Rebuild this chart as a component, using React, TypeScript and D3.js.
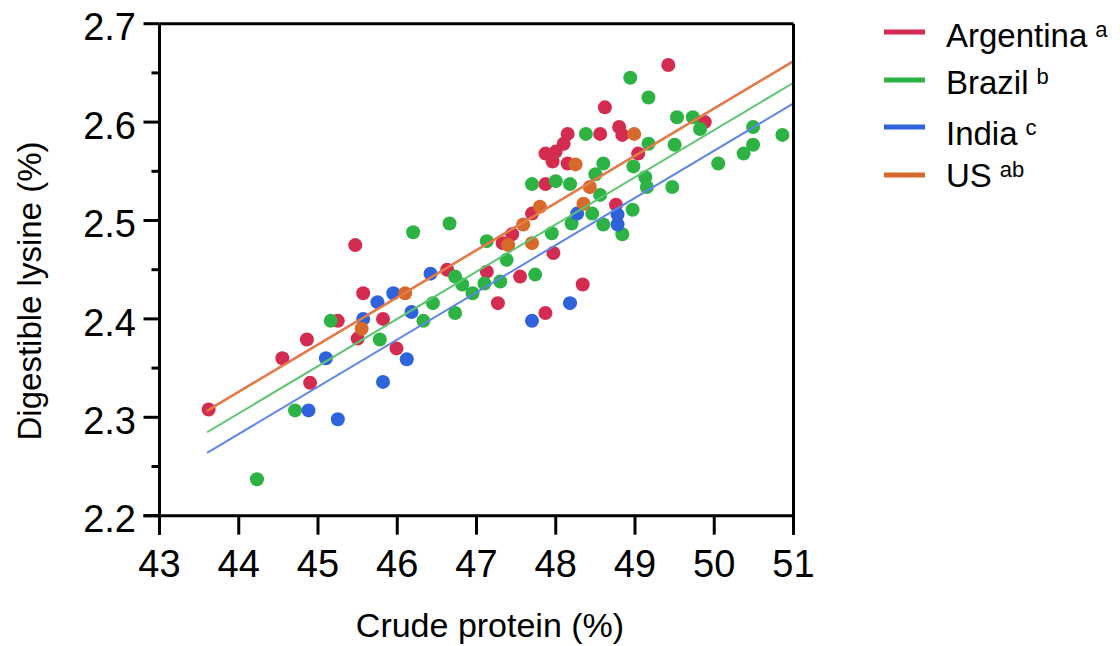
import React from 'react';
import * as d3 from 'd3';

// points: [crude protein %, digestible lysine %]
const argentina: [number, number][] = [
  [43.62, 2.308], [44.55, 2.36], [44.86, 2.379], [44.9, 2.335], [45.25, 2.398],
  [45.47, 2.475], [45.5, 2.38], [45.57, 2.426], [45.82, 2.4], [45.99, 2.37],
  [46.63, 2.45], [47.13, 2.448], [47.27, 2.416], [47.33, 2.477], [47.45, 2.486],
  [47.55, 2.443], [47.7, 2.507], [47.87, 2.406], [47.97, 2.467], [48.34, 2.435],
  [47.87, 2.537], [47.87, 2.568], [47.96, 2.56], [48.0, 2.57], [48.1, 2.578],
  [48.15, 2.588], [48.15, 2.558], [48.56, 2.588], [48.62, 2.615], [48.8, 2.595],
  [48.84, 2.587], [49.04, 2.568], [49.42, 2.658], [48.76, 2.516], [49.88, 2.6],
];
const brazil: [number, number][] = [
  [44.23, 2.237], [44.71, 2.307], [45.16, 2.398], [45.78, 2.379], [46.33, 2.398],
  [46.45, 2.416], [46.2, 2.488], [46.66, 2.497], [46.73, 2.443], [46.73, 2.406],
  [46.82, 2.435], [46.95, 2.426], [47.1, 2.436], [47.3, 2.438], [47.38, 2.46],
  [47.13, 2.479], [47.74, 2.445], [47.7, 2.537], [47.95, 2.487], [48.0, 2.54],
  [48.18, 2.537], [48.2, 2.497], [48.38, 2.588], [48.46, 2.507], [48.5, 2.547],
  [48.56, 2.526], [48.6, 2.558], [48.6, 2.496], [48.84, 2.486], [48.94, 2.645],
  [48.97, 2.511], [48.98, 2.555], [49.13, 2.544], [49.15, 2.534], [49.17, 2.625],
  [49.17, 2.578], [49.47, 2.534], [49.5, 2.577], [49.53, 2.605], [49.73, 2.605],
  [49.82, 2.593], [50.05, 2.558], [50.37, 2.568], [50.49, 2.577], [50.49, 2.595],
  [50.86, 2.587],
];
const india: [number, number][] = [
  [44.88, 2.307], [45.25, 2.298], [45.1, 2.36], [45.82, 2.336], [45.57, 2.4],
  [45.75, 2.417], [45.95, 2.426], [46.12, 2.359], [46.18, 2.407], [46.42, 2.446],
  [47.7, 2.398], [48.18, 2.416], [48.27, 2.507], [48.78, 2.506], [48.78, 2.496],
];
const us: [number, number][] = [
  [45.55, 2.39], [46.1, 2.426], [47.4, 2.475], [47.59, 2.496], [47.7, 2.477],
  [47.8, 2.514], [48.25, 2.557], [48.35, 2.517], [48.43, 2.534], [48.99, 2.588],
];

const countries = ['Argentina', 'Brazil', 'India', 'US'];
const letters = ['a', 'b', 'c', 'ab'];
const colors = ['#d42c50', '#2cb344', '#2f63db', '#d7692a'];
const lineColors = ['#e4587a', '#5cc670', '#5d86e6', '#e2843a'];
const series = [argentina, brazil, india, us];

// fitted lines: common slope, one intercept per country
const fitSlope = 0.048;
const fitIntercepts = [0.2142, 0.192, 0.171, 0.2135];
const fitRange = [43.6, 51];

const xTickValues = [43, 44, 45, 46, 47, 48, 49, 50, 51];
const yTickValues = [2.2, 2.3, 2.4, 2.5, 2.6, 2.7];
const yMinorValues = [2.25, 2.35, 2.45, 2.55, 2.65];

const font = '"Liberation Sans", Arial, sans-serif';

export default function App() {
  const width = 1120;
  const height = 646;

  // scales
  const x = d3.scaleLinear().domain([43, 51]).range([159.5, 793.5]);
  const y = d3.scaleLinear().domain([2.2, 2.7]).range([515.7, 23.7]);
  const [x0, x1] = x.range();
  const [yb, yt] = y.range();

  // legend rows
  const legendLineY = [32, 80, 127, 175];
  const legendTextY = [47, 94, 145, 187];

  return (
    <svg width={width} height={height} style={{ position: 'absolute', left: 0, top: 0, background: '#fff' }}>
      <rect width={width} height={height} fill="#fff" />

      {/* points */}
      {series.map((s, k) => (
        <g key={countries[k]} fill={colors[k]}>
          {s.map((d, i) => (
            <circle key={i} cx={x(d[0])} cy={y(d[1])} r={7} />
          ))}
        </g>
      ))}

      {/* fitted lines */}
      {fitIntercepts.map((b, k) => (
        <line
          key={countries[k]}
          x1={x(fitRange[0])}
          y1={y(b + fitSlope * fitRange[0])}
          x2={x(fitRange[1])}
          y2={y(b + fitSlope * fitRange[1])}
          stroke={lineColors[k]}
          strokeWidth={2}
        />
      ))}

      {/* frame */}
      <g stroke="#000" strokeWidth={3} fill="none">
        <line x1={x0} x2={x1} y1={yt} y2={yt} />
        <line x1={x1} x2={x1} y1={yt} y2={yb + 19} />
        <line x1={x0} x2={x0} y1={yt} y2={yb + 19} />
        <line x1={x0 - 16} x2={x1} y1={yb} y2={yb} />
        {xTickValues.map(v => (
          <line key={v} x1={x(v)} x2={x(v)} y1={yb} y2={yb + 19} />
        ))}
        {yTickValues.map(v => (
          <line key={v} x1={x0 - 16} x2={x0} y1={y(v)} y2={y(v)} />
        ))}
        {yMinorValues.map(v => (
          <line key={v} x1={x0 - 8} x2={x0} y1={y(v)} y2={y(v)} />
        ))}
      </g>

      {/* tick labels */}
      <g fontFamily={font} fontSize={38} fill="#000">
        {xTickValues.map(v => (
          <text key={v} x={x(v)} y={577} textAnchor="middle">{v}</text>
        ))}
        {yTickValues.map(v => (
          <text key={v} x={136} y={y(v) + 3} dy="0.36em" textAnchor="end">{v.toFixed(1)}</text>
        ))}
      </g>

      {/* axis titles */}
      <text x={490} y={637} textAnchor="middle" fontFamily={font} fontSize={34}>Crude protein (%)</text>
      <text transform={`translate(41,291) rotate(-90)`} textAnchor="middle" fontFamily={font} fontSize={33}>Digestible lysine (%)</text>

      {/* legend */}
      {countries.map((c, k) => (
        <g key={c}>
          <line x1={884} x2={925} y1={legendLineY[k]} y2={legendLineY[k]} stroke={colors[k]} strokeWidth={5} />
          <text x={946} y={legendTextY[k]} fontFamily={font} fontSize={33}>
            {c}
            <tspan dx={8} dy={-10} fontSize={22}>{letters[k]}</tspan>
          </text>
        </g>
      ))}
    </svg>
  );
}
